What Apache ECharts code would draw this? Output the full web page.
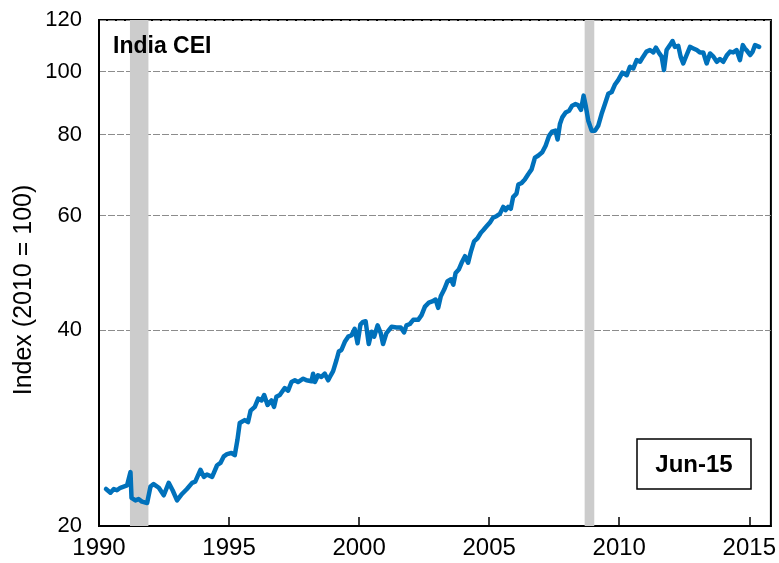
<!DOCTYPE html>
<html>
<head>
<meta charset="utf-8">
<script src="https://cdn.jsdelivr.net/npm/echarts@6/dist/echarts.min.js"></script>
<style>html,body{margin:0;padding:0;background:#fff;}#c{width:779px;height:563px;}</style>
</head>
<body>
<div id="c"></div>
<script>
const years = [1990.27,1990.44,1990.57,1990.69,1990.82,1990.95,1991.08,1991.21,1991.25,1991.40,1991.52,1991.65,1991.85,1991.98,1992.10,1992.30,1992.49,1992.68,1992.83,1993.00,1993.19,1993.38,1993.58,1993.70,1993.90,1994.03,1994.15,1994.35,1994.54,1994.67,1994.80,1994.92,1995.09,1995.22,1995.32,1995.41,1995.60,1995.73,1995.83,1995.99,1996.12,1996.25,1996.35,1996.48,1996.63,1996.73,1996.82,1996.95,1997.14,1997.27,1997.40,1997.53,1997.65,1997.85,1997.98,1998.17,1998.23,1998.30,1998.42,1998.55,1998.68,1998.81,1998.91,1999.00,1999.13,1999.22,1999.32,1999.45,1999.58,1999.71,1999.83,1999.94,2000.05,2000.15,2000.25,2000.37,2000.48,2000.58,2000.71,2000.83,2000.92,2001.05,2001.25,2001.44,2001.60,2001.73,2001.82,2001.95,2002.08,2002.27,2002.40,2002.53,2002.68,2002.81,2002.94,2003.04,2003.14,2003.27,2003.40,2003.53,2003.62,2003.71,2003.83,2003.94,2004.07,2004.19,2004.30,2004.42,2004.55,2004.68,2004.77,2004.90,2005.03,2005.15,2005.28,2005.41,2005.54,2005.63,2005.73,2005.83,2005.92,2006.05,2006.12,2006.25,2006.37,2006.50,2006.63,2006.76,2006.88,2007.04,2007.17,2007.30,2007.42,2007.55,2007.63,2007.72,2007.81,2007.94,2008.07,2008.19,2008.32,2008.42,2008.53,2008.63,2008.71,2008.81,2008.94,2009.07,2009.19,2009.32,2009.45,2009.58,2009.71,2009.83,2009.96,2010.12,2010.29,2010.41,2010.54,2010.67,2010.80,2010.92,2011.05,2011.18,2011.31,2011.41,2011.54,2011.63,2011.72,2011.82,2011.95,2012.05,2012.14,2012.27,2012.36,2012.46,2012.59,2012.72,2012.85,2012.98,2013.10,2013.23,2013.36,2013.49,2013.62,2013.75,2013.87,2014.00,2014.13,2014.26,2014.38,2014.51,2014.64,2014.75,2014.83,2014.92,2015.03,2015.13,2015.22,2015.38];
const ceiValues = [22.8,22.5,22.8,22.7,22.9,23.0,23.1,24.2,22.1,21.9,22.0,21.8,21.7,23.0,23.2,22.9,22.3,23.3,22.7,21.9,22.4,22.8,23.3,23.4,24.4,23.8,24.0,23.8,24.8,25.0,25.6,25.8,25.9,25.7,27.1,28.8,29.1,28.9,30.1,30.5,31.4,31.2,31.8,30.7,31.2,30.5,31.6,31.8,32.6,32.3,33.3,33.5,33.3,33.7,33.5,33.4,34.3,33.3,34.1,33.9,34.3,33.5,34.1,34.6,36.0,37.1,37.3,38.4,39.1,39.3,40.2,38.2,40.8,41.2,41.3,38.1,39.8,39.1,40.7,39.6,38.1,39.6,40.5,40.4,40.4,39.7,40.7,40.9,41.5,41.5,42.2,43.5,44.1,44.3,44.6,43.3,45.1,46.2,47.6,47.9,47.0,49.0,49.6,50.8,52.0,50.8,52.9,54.8,55.4,56.5,57.0,57.8,58.6,59.6,59.9,60.4,61.9,61.2,61.9,61.5,64.1,64.9,67.0,67.4,68.2,69.5,70.7,73.7,74.2,75.1,76.9,79.6,80.8,81.1,78.6,83.0,85.0,86.5,87.0,88.6,89.1,88.8,87.3,91.8,88.6,84.0,81.1,81.1,82.5,86.0,89.1,92.4,93.0,95.4,97.0,99.6,98.7,101.7,101.1,104.1,103.5,105.4,107.3,107.9,107.0,108.8,106.6,105.4,100.5,107.9,109.8,111.4,109.1,109.5,105.4,102.9,106.0,109.1,108.5,107.9,107.0,107.0,102.9,106.6,105.4,103.5,104.5,103.5,105.8,107.3,107.0,107.9,104.1,109.8,108.5,107.5,106.0,107.3,109.8,109.1];
const recessions = [[1991.19, 1991.9], [2008.67, 2009.04]];
const xTickLabels = [1990, 1995, 2000, 2005, 2010, 2015];
const yTickLabels = [20, 40, 60, 80, 100, 120];
const chartTitle = 'India CEI';
const dateLabel = 'Jun-15';
const yAxisName = 'Index (2010 = 100)';

const seriesData = years.map((y, i) => [y, ceiValues[i]]);
const chart = echarts.init(document.getElementById('c'), null, {renderer: 'canvas'});
const FONT = 'Liberation Sans, Arial, sans-serif';
chart.setOption({
  animation: false,
  grid: {left: 99, top: 20, right: 8, bottom: 37, show: true, borderColor: '#000', borderWidth: 2, backgroundColor: 'transparent'},
  xAxis: {
    type: 'value', min: 1990, max: 2015.83, interval: 5,
    axisLine: {show: true, lineStyle: {color: '#000', width: 2}},
    axisTick: {show: true, inside: true, length: 9, lineStyle: {color: '#000', width: 1.5}, customValues: xTickLabels.slice(1)},
    axisLabel: {color: '#000', fontSize: 24, fontFamily: FONT, margin: 10, customValues: xTickLabels, formatter: v => String(v)},
    splitLine: {show: false}
  },
  yAxis: {
    type: 'log', logBase: 10, min: 20, max: 120,
    axisLine: {show: true, lineStyle: {color: '#000', width: 2}},
    axisTick: {show: false, customValues: yTickLabels},
    axisLabel: {color: '#000', fontSize: 22, fontFamily: FONT, margin: 17, customValues: yTickLabels, formatter: v => String(v)},
    splitLine: {show: true, lineStyle: {color: '#8c8c8c', width: 1, type: [7, 2]}}
  },
  graphic: [
    {type: 'text', left: 113, top: 35, z: 100, style: {text: chartTitle, font: 'bold 23px ' + FONT, fill: '#000'}},
    {type: 'rect', shape: {x: 637, y: 439, width: 114, height: 50}, style: {fill: '#fff', stroke: '#000', lineWidth: 1.5}, z: 100},
    {type: 'text', x: 694, y: 465, z: 101, style: {text: dateLabel, font: 'bold 24px ' + FONT, fill: '#000', align: 'center', verticalAlign: 'middle'}},
    {type: 'text', x: 24, y: 290, rotation: Math.PI / 2, style: {text: yAxisName, font: '25px ' + FONT, fill: '#000', align: 'center', verticalAlign: 'middle'}}
  ],
  series: [{
    type: 'line', data: seriesData, showSymbol: false, symbol: 'none',
    lineStyle: {color: '#0071bb', width: 4.5, join: 'round', cap: 'round'},
    markArea: {silent: true, itemStyle: {color: '#cccccc'},
      data: recessions.map(r => [{xAxis: r[0]}, {xAxis: r[1]}])}
  }]
});
</script>
</body>
</html>
